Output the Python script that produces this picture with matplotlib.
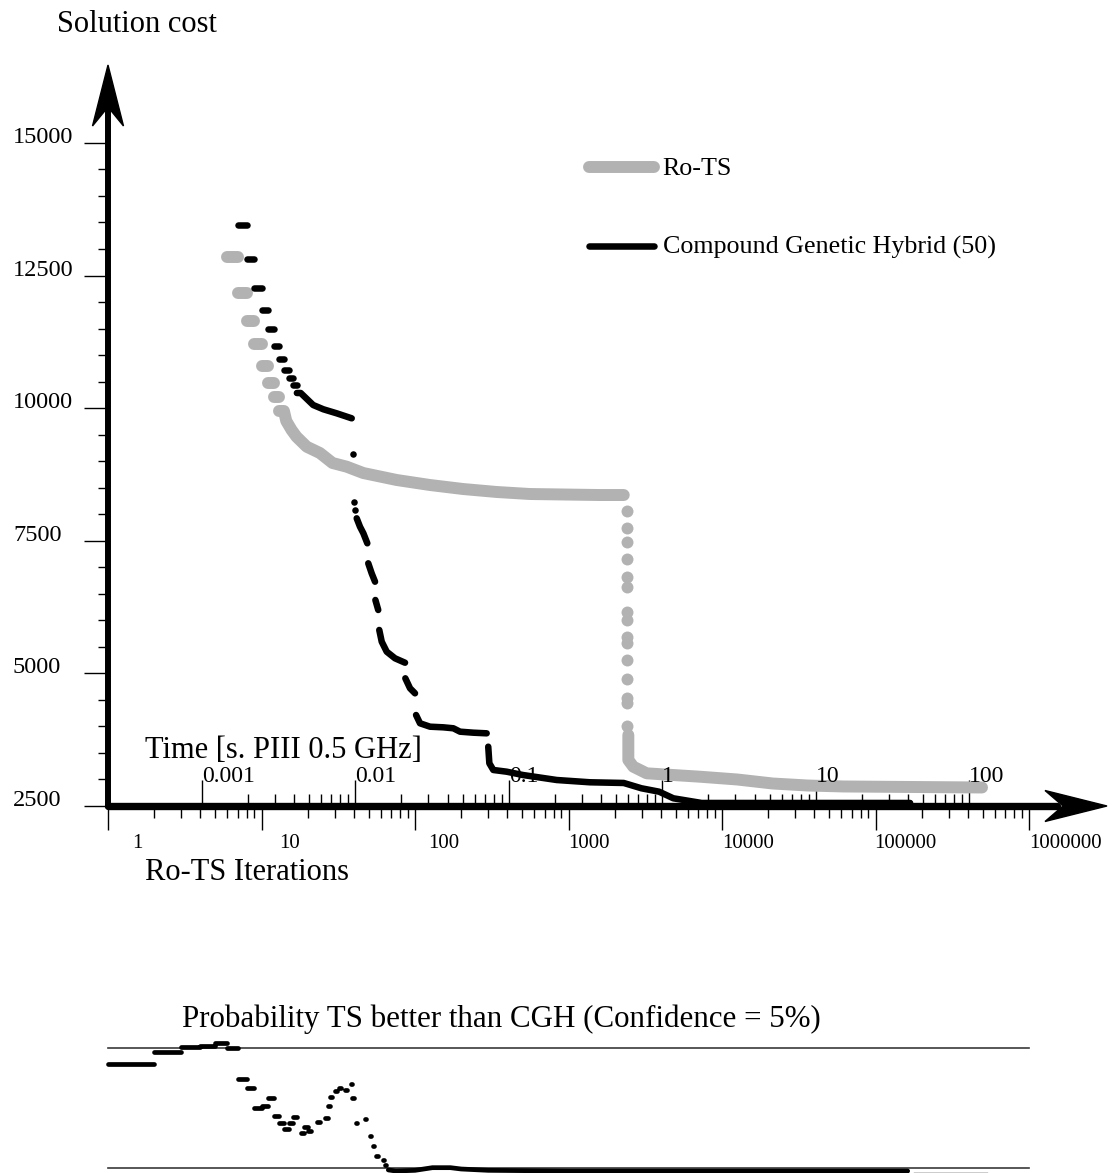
import numpy as np
import matplotlib
matplotlib.use("Agg")
import matplotlib.pyplot as plt
from matplotlib.lines import Line2D
from matplotlib.patches import Polygon
from matplotlib.ticker import FixedLocator, NullFormatter

plt.rcParams["font.family"] = ["Liberation Serif", "DejaVu Serif"]
NAN = np.nan

# ----------------------------- data -----------------------------
ITERS_PER_SECOND = 4078.0          # Ro-TS iterations per second (PIII 0.5 GHz)
iter_ticks = [1, 10, 100, 1000, 10000, 100000, 1000000]
iter_tick_labels = ["1", "10", "100", "1000", "10000", "100000", "1000000"]
time_ticks = [0.001, 0.01, 0.1, 1, 10, 100]
time_tick_labels = ["0.001", "0.01", "0.1", "1", "10", "100"]
cost_ticks = [2500, 5000, 7500, 10000, 12500, 15000]
cost_tick_labels = ["2500", "5000", "7500", "10000", "12500", "15000"]

# Ro-TS: one dash per iteration (start iteration, cost)
rots_dash_start = [6, 7, 8, 9, 10, 11, 12]
rots_dash_cost = [12845, 12175, 11650, 11200, 10795, 10470, 10205]
rots_curve1_iter = [13, 14, 14.5, 15.7, 16.9, 19.7, 24.0, 29.0, 35.9, 46.0, 76, 125, 206, 341, 561, 1604, 2290]
rots_curve1_cost = [9946, 9946, 9757, 9588, 9461, 9273, 9154, 8966, 8896, 8777, 8645, 8551, 8475, 8419, 8381, 8362, 8362]
rots_drop_iter = [2393, 2394, 2395, 2396, 2397, 2398, 2399, 2400, 2401, 2402, 2403, 2404, 2405, 2406, 2407]
rots_drop_cost = [8066, 7746, 7471, 7150, 6811, 6622, 6163, 6006, 5691, 5567, 5252, 4894, 4530, 4447, 4008]
rots_curve2_iter = [2453, 2453, 2643, 3230, 7190, 12530, 21400, 36300, 62100, 180000, 494000]
rots_curve2_cost = [3838, 3367, 3241, 3116, 3052, 3000, 2924, 2886, 2868, 2858, 2849]

# Compound Genetic Hybrid (50)
cgh_dash_start = [7, 8, 9, 10, 11, 12, 13, 14, 15, 16]
cgh_dash_cost = [13450, 12820, 12270, 11850, 11500, 11180, 10920, 10720, 10560, 10435]
cgh_dot_iter = [39.3, 40.1, 40.7]
cgh_dot_cost = [9130, 8236, 8080]
cgh_runs_iter = [17, 18, 21.7, 25.3, 30.9, 38.7, NAN,
                 41.7, 43.8, 46.1, 48.9, NAN,
                 49.6, 52.2, 54.9, NAN,
                 55.2, 57.6, NAN,
                 58.5, 60.7, 65.4, 74.1, 86.1, NAN,
                 86.5, 92.8, 100, NAN,
                 101.6, 107.8, 125.3, 152.9, 177.7, 196.5, 239.7, 293, NAN,
                 300, 305, 323.6, 395, 505, 838, 1380, 2290, 2985, 3890, 4820, 7370, 168000]
cgh_runs_cost = [10285, 10285, 10059, 9978, 9902, 9808, NAN,
                 7923, 7765, 7640, 7452, NAN,
                 7075, 6886, 6728, NAN,
                 6383, 6195, NAN,
                 5818, 5597, 5409, 5284, 5201, NAN,
                 4907, 4719, 4624, NAN,
                 4215, 4059, 3995, 3983, 3965, 3901, 3882, 3870, NAN,
                 3618, 3305, 3179, 3147, 3084, 2990, 2947, 2934, 2834, 2770, 2645, 2557, 2557]

# Probability TS better than CGH (one dash per iteration), then a continuous tail
prob_dash_start = [1, 2, 3, 4, 5, 6, 7, 8, 9, 10, 11, 12, 13, 14, 15, 16, 18, 19, 20,
                   23, 26, 27, 28, 30, 32, 35, 38, 39, 41, 47, 51, 53, 56, 62, 64]
prob_dash_value = [0.833, 0.920, 0.9625, 0.970, 0.988, 0.950, 0.720, 0.650, 0.500, 0.520,
                   0.575, 0.445, 0.392, 0.343, 0.392, 0.437, 0.317, 0.358, 0.332,
                   0.400, 0.425, 0.520, 0.587, 0.632, 0.650, 0.638, 0.683, 0.575,
                   0.388, 0.418, 0.293, 0.218, 0.143, 0.113, 0.075]
prob_tail_iter = [67, 75, 100, 130, 170, 200, 300, 1000, 10000, 162000]
prob_tail_value = [0.038, 0.030, 0.035, 0.055, 0.055, 0.045, 0.035, 0.030, 0.030, 0.030]
prob_end_iter = [178000, 532000]
prob_end_value = [0.015, 0.015]
confidence_levels = [0.05, 0.95]

# ----------------------------- layout -----------------------------
W, H = 1116, 1173
fig = plt.figure(figsize=(W / 100, H / 100), dpi=100)
fig.patch.set_facecolor("white")

def fx(px):
    return px / W

def fy(py):
    return 1 - py / H

AX_L, AX_R, AX_B, AX_T = 108, 1107, 806, 65
ax = fig.add_axes([fx(AX_L), fy(AX_B), (AX_R - AX_L) / W, (AX_B - AX_T) / H])
ax.set_xscale("log")
ax.set_xlim(1, 10 ** 6.508)
ax.set_ylim(2500, 16468)
for s in ax.spines.values():
    s.set_visible(False)
ax.patch.set_alpha(0)

GRAY = "#b2b2b2"
LW_GRAY = 8.6
LW_BLACK = 4.7
LW_PROB = 3.4


def dash_xy(starts, vals):
    xs, ys = [], []
    for s, v in zip(starts, vals):
        xs += [s, s + 1, NAN]
        ys += [v, v, NAN]
    return xs, ys


def draw_runs(a, xs, ys, color, lw, z):
    a.plot(xs, ys, color=color, lw=lw, solid_capstyle="round",
           solid_joinstyle="round", zorder=z, clip_on=False)


def draw_dots(a, xs, ys, color, lw, z):
    a.plot(xs, ys, ls="none", marker="o", ms=lw, mew=0, color=color,
           zorder=z, clip_on=False)

# Ro-TS (gray)
x, y = dash_xy(rots_dash_start, rots_dash_cost)
draw_runs(ax, x, y, GRAY, LW_GRAY, 2)
draw_runs(ax, rots_curve1_iter, rots_curve1_cost, GRAY, LW_GRAY, 2)
draw_dots(ax, rots_drop_iter, rots_drop_cost, GRAY, LW_GRAY, 2)
draw_runs(ax, rots_curve2_iter, rots_curve2_cost, GRAY, LW_GRAY, 2)

# CGH (black)
x, y = dash_xy(cgh_dash_start, cgh_dash_cost)
draw_runs(ax, x, y, "black", LW_BLACK, 4)
draw_dots(ax, cgh_dot_iter, cgh_dot_cost, "black", LW_BLACK, 4)
draw_runs(ax, cgh_runs_iter, cgh_runs_cost, "black", LW_BLACK, 4)

# ---- axes lines and arrowheads ----
axw, axh = AX_R - AX_L, AX_B - AX_T
ax.add_line(Line2D([0, 1 - 50 / axw], [0, 0], transform=ax.transAxes, color="black",
                   lw=5.3, solid_capstyle="round", clip_on=False, zorder=3))
ax.add_line(Line2D([0, 0], [0, 1 - 45 / axh], transform=ax.transAxes, color="black",
                   lw=4.3, solid_capstyle="round", clip_on=False, zorder=3))
ax.add_patch(Polygon([(1, 0), (1 - 62 / axw, 15.5 / axh), (1 - 44 / axw, 0),
                      (1 - 62 / axw, -15.5 / axh)], closed=True, transform=ax.transAxes,
                     color="black", clip_on=False, zorder=3))
ax.add_patch(Polygon([(0, 1), (15.5 / axw, 1 - 61 / axh), (0, 1 - 42 / axh),
                      (-15.5 / axw, 1 - 61 / axh)], closed=True, transform=ax.transAxes,
                     color="black", clip_on=False, zorder=3))

# ---- ticks ----
iter_minor = [m * 10 ** e for e in range(0, 6) for m in range(2, 10)]
ax.xaxis.set_major_locator(FixedLocator(iter_ticks))
ax.xaxis.set_minor_locator(FixedLocator(iter_minor))
ax.xaxis.set_major_formatter(NullFormatter())
ax.xaxis.set_minor_formatter(NullFormatter())
ax.tick_params(axis="x", which="major", direction="out", length=17.3, width=1.0, bottom=True, top=False)
ax.tick_params(axis="x", which="minor", direction="out", length=8.6, width=1.0, bottom=True, top=False)

cost_minor = [v for v in range(3000, 15000, 500) if v not in cost_ticks]
ax.yaxis.set_major_locator(FixedLocator(cost_ticks))
ax.yaxis.set_minor_locator(FixedLocator(cost_minor))
ax.yaxis.set_major_formatter(NullFormatter())
ax.yaxis.set_minor_formatter(NullFormatter())
ax.tick_params(axis="y", which="major", direction="out", length=17.3, width=1.0, left=True, right=False)
ax.tick_params(axis="y", which="minor", direction="out", length=7.2, width=1.0, left=True, right=False)

sec = ax.secondary_xaxis(0.0, functions=(lambda v: np.asarray(v) / ITERS_PER_SECOND,
                                         lambda t: np.asarray(t) * ITERS_PER_SECOND))
sec.set_alignment("top")
for s in sec.spines.values():
    s.set_visible(False)
time_minor = [m * 10.0 ** e for e in range(-3, 2) for m in range(2, 10)]
sec.xaxis.set_major_locator(FixedLocator(time_ticks))
sec.xaxis.set_minor_locator(FixedLocator(time_minor))
sec.xaxis.set_major_formatter(NullFormatter())
sec.xaxis.set_minor_formatter(NullFormatter())
sec.tick_params(axis="x", which="major", direction="out", length=18.7, width=1.0)
sec.tick_params(axis="x", which="minor", direction="out", length=8.6, width=1.0)

# ---- tick labels ----
xt = ax.get_xaxis_transform()
iter_label_dx = [24, 18, 13, 0, 0, -1, 0]
for v, lab, dx in zip(iter_ticks, iter_tick_labels, iter_label_dx):
    ax.annotate(lab, xy=(v, 0), xycoords=xt, xytext=(dx, -42), textcoords="offset pixels",
                ha="left", va="baseline", fontsize=15, annotation_clip=False)
for t, lab in zip(time_ticks, time_tick_labels):
    ax.annotate(lab, xy=(t * ITERS_PER_SECOND, 0), xycoords=xt, xytext=(0, 24),
                textcoords="offset pixels", ha="left", va="baseline", fontsize=17,
                zorder=3, annotation_clip=False)
yt = matplotlib.transforms.blended_transform_factory(fig.transFigure, ax.transData)
for v, lab in zip(cost_ticks, cost_tick_labels):
    ax.text(fx(13), v, lab, transform=yt, ha="left", va="baseline", fontsize=17.5)

# ---- axis titles ----
fig.text(fx(57), fy(32), "Solution cost", fontsize=22, ha="left", va="baseline")
fig.text(fx(145), fy(758), "Time [s. PIII 0.5 GHz]", fontsize=22, ha="left", va="baseline")
fig.text(fx(145), fy(880), "Ro-TS Iterations", fontsize=22, ha="left", va="baseline")

# ---- legend ----
fig.add_artist(Line2D([fx(589), fx(654)], [fy(167.3), fy(167.3)], color=GRAY, lw=LW_GRAY,
                      solid_capstyle="round"))
fig.add_artist(Line2D([fx(589), fx(654)], [fy(246), fy(246)], color="black", lw=LW_BLACK,
                      solid_capstyle="round"))
fig.text(fx(662.7), fy(175), "Ro-TS", fontsize=18.7, ha="left", va="baseline")
fig.text(fx(662.7), fy(253.3), "Compound Genetic Hybrid (50)", fontsize=18.7, ha="left", va="baseline")

# ----------------------------- probability panel -----------------------------
ax2 = fig.add_axes([fx(AX_L), fy(1175), (AX_R - AX_L) / W, 133.3 / H])
ax2.set_xscale("log")
ax2.set_xlim(1, 10 ** 6.508)
ax2.set_ylim(0, 1)
ax2.axis("off")
for lvl in confidence_levels:
    ax2.plot([iter_ticks[0], iter_ticks[-1]], [lvl, lvl], color="#3a3a3a", lw=1.2, zorder=1,
             clip_on=False)
x, y = dash_xy(prob_dash_start, prob_dash_value)
draw_runs(ax2, x, y, "black", LW_PROB, 3)
draw_runs(ax2, prob_tail_iter, prob_tail_value, "black", LW_PROB, 3)
ax2.plot(prob_end_iter, prob_end_value, color="black", lw=1.0, zorder=3, clip_on=False)

fig.text(fx(181.7), fy(1026.7), "Probability TS better than CGH (Confidence = 5%)",
         fontsize=22.3, ha="left", va="baseline")

fig.savefig("out.png", dpi=100, facecolor="white")
